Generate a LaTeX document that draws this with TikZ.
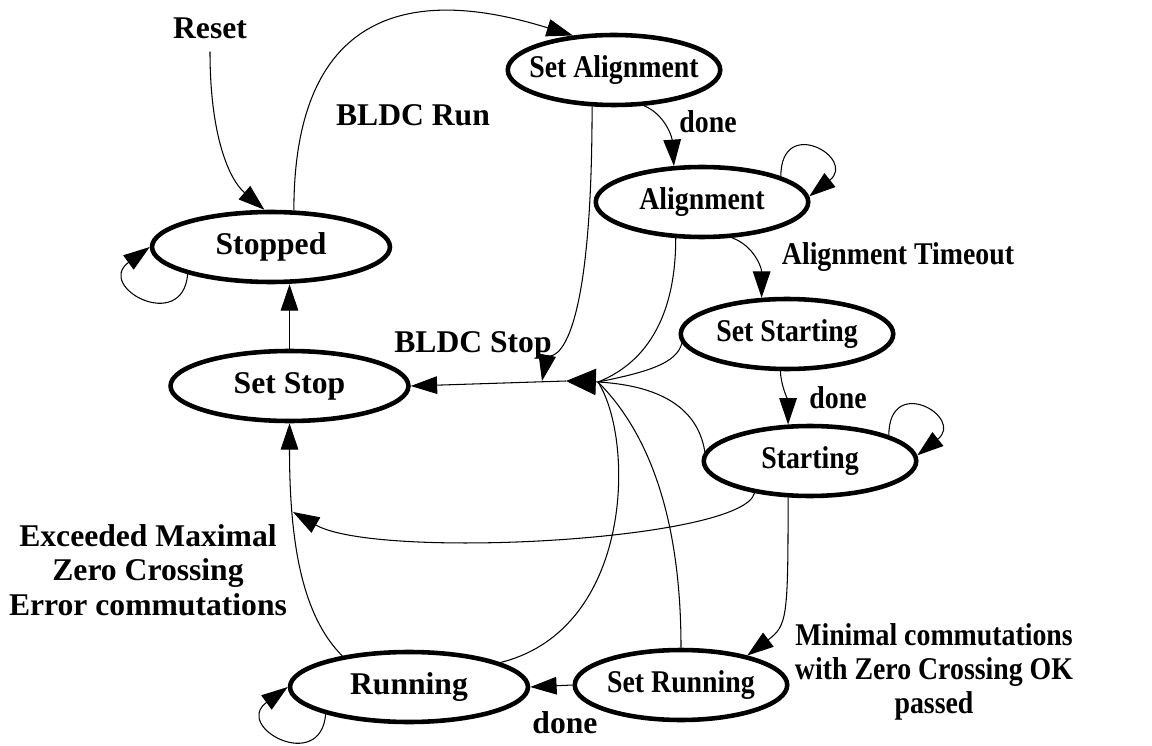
\documentclass[tikz,border=0pt]{standalone}
\usepackage{fontspec}
\setmainfont{Liberation Serif}
\newfontfamily\narrowfont{Liberation Serif}[FakeStretch=0.88]
\usetikzlibrary{shapes.geometric,arrows.meta}

\begin{document}
\begin{tikzpicture}[x=0.02cm, y=-0.02cm,
  font=\bfseries\fontsize{18}{19.5}\selectfont,
  narrow/.style={font=\narrowfont\bfseries\fontsize{18}{19.5}\selectfont},
  state/.style={ellipse, draw, line width=2.6pt, minimum width=4.25cm, minimum height=1.4cm, inner sep=0pt},
  widestate/.style={state, minimum width=4.76cm},
  link/.style={line width=0.6pt},
  trans/.style={link, -{Triangle[length=15pt,width=10pt]}},
  merge/.style={link, -{Triangle[length=17pt,width=15pt]}}]
\useasboundingbox (0,0) rectangle (1152,746);

\node[widestate, label=center:Stopped] (stopped) at (271,247) {};
\node[state, label={[narrow]center:Set Alignment}] (setalign) at (614,70) {};
\node[state, label={[narrow]center:Alignment}] (align) at (702,202) {};
\node[state, label={[narrow]center:Set Starting}] (setstart) at (787,334) {};
\node[state, label={[narrow]center:Starting}] (starting) at (810,461) {};
\node[state, label={[narrow]center:Set Running}] (setrun) at (681,685) {};
\node[widestate, label=center:Running] (running) at (409,687) {};
\node[widestate, label=center:Set Stop] (setstop) at (289.5,386) {};

\node (resetlbl) at (210,28) {Reset};
\node (runlbl) at (413,115) {BLDC Run};
\node[narrow] (done1) at (708,122) {done};
\node[narrow] (timeoutlbl) at (898,257) {Alignment Timeout};
\node (stoplbl) at (473,345) {BLDC Stop};
\node[narrow] (done2) at (838,398) {done};
\node[align=center] (errlbl) at (148,570) {Exceeded Maximal\\Zero Crossing\\Error commutations};
\node[narrow, align=center] (minlbl) at (934,672) {Minimal commutations\\with Zero Crossing OK\\passed};
\node (done3) at (565,723) {done};

\draw[trans] ([yshift=-4pt]resetlbl.south) .. controls +(0,85) and +(-35,-30) .. (stopped.100);
\draw[trans] (stopped.58) .. controls +(0,-250) and +(-95,-29) .. (setalign.140);
\draw[trans] (setalign.-50) .. controls +(20,8) and +(-2,-30) .. (align.128);
\draw[trans] (align.18) .. controls +(0,-62) and +(48,-38) .. (align.3);
\draw[trans] (align.-50) .. controls +(22,8) and +(0,-30) .. (setstart.125);
\draw[trans] (setstart.-100) .. controls +(0,12) and +(0,-22) .. (starting.121);
\draw[trans] (starting.18) .. controls +(0,-62) and +(48,-38) .. (starting.3);
\draw[trans] (starting.-121) .. controls +(0,120) and +(40,-30) .. (setrun.24);
\draw[trans] (setrun.west) -- (running.east);
\draw[trans] (running.-162) .. controls +(-5,60) and +(-55,40) .. (running.west);
\draw[trans] (stopped.-162) .. controls +(-5,60) and +(-55,40) .. (stopped.west);
\draw[trans] (setstop.north) -- (setstop.north |- stopped.south);
\draw[trans] (running.155) .. controls +(-40,-40) and +(0,120) .. (setstop.south);

\coordinate (errjoin) at (293,512);
\draw[trans] (starting.-150) .. controls +(-12,48) and +(84,48) .. (errjoin);

\coordinate (join) at (598,382);
\coordinate (jointip) at (566,381);
\coordinate (stopin) at (542,381);
\draw[trans] (setalign.-121) .. controls +(0,270) and +(5,-25) .. (stopin);
\draw[link] (align.-126) .. controls +(0,100) and +(30,-12) .. (join);
\draw[link] (setstart.-175) .. controls +(-5,20) and +(50,-10) .. (join);
\draw[link] (starting.175) .. controls +(-8,-50) and +(52,3) .. (join);
\draw[link] (setrun.north) .. controls +(0,-150) and +(40,40) .. (join);
\draw[link] (running.15) .. controls +(133,-33) and +(37,58) .. (join);
\draw[merge] (join) -- (jointip);
\draw[trans] (jointip) -- (setstop.east);
\end{tikzpicture}
\end{document}
